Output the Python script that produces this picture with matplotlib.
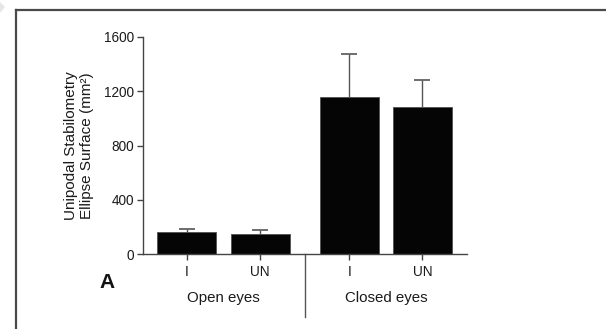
import matplotlib
matplotlib.use("Agg")
import matplotlib.pyplot as plt
from matplotlib.lines import Line2D
from matplotlib.patches import Polygon
from matplotlib import transforms

plt.rcParams['font.family'] = ['Liberation Sans', 'DejaVu Sans']

# Data
groups = ["Open eyes", "Closed eyes"]
subgroups = ["I", "UN"]
means = [166, 149, 1159, 1085]
sem = [18, 27, 314, 197]
yticks = [0, 400, 800, 1200, 1600]

W, H = 606, 329
fig = plt.figure(figsize=(W / 100, H / 100), dpi=100)

# Frame around the panel (left and top edges)
frame_col = "#4a4a4a"
fig.add_artist(Line2D([16 / W, 16 / W], [0, 1 - 10 / H], color=frame_col, lw=1.6,
                      transform=fig.transFigure))
fig.add_artist(Line2D([16 / W, 1], [1 - 10 / H, 1 - 10 / H], color=frame_col, lw=1.6,
                      transform=fig.transFigure))
fig.add_artist(Polygon([[0, 1 - 2 / H], [5 / W, 1 - 7 / H], [0, 1 - 13 / H]],
                       closed=True, facecolor="#e6e6e6", edgecolor="none",
                       transform=fig.transFigure))

ax = fig.add_axes([142.7 / W, 74.7 / H, 324 / W, 217.6 / H])

# Bar positions: two bars per group, wider gap between groups
step = 1.0
group_gap = 1.213
pos = [0, step, step + group_gap, 2 * step + group_gap]
width = 0.805

ax.bar(pos, means, width=width, color="#050505", edgecolor="#505050", linewidth=0.6, zorder=2)
eb = ax.errorbar(pos, means, yerr=[[0] * len(sem), sem], fmt="none", ecolor="#555555",
                 elinewidth=1.0, capsize=5.5, capthick=1.2, zorder=1)
# upper error only: hide the lower caps
eb[1][0].set_visible(False)

ax.set_xlim(-0.604, 3.816)
ax.set_ylim(0, 1600)
ax.set_yticks(yticks)
ax.set_yticklabels([str(v) for v in yticks])
ax.set_xticks(pos)
ax.set_xticklabels(subgroups * 2)

for s in ["top", "right"]:
    ax.spines[s].set_visible(False)
for s in ["left", "bottom"]:
    ax.spines[s].set_color("#444444")
    ax.spines[s].set_linewidth(1.0)

ax.tick_params(axis="both", colors="#444444", labelcolor="#1a1a1a", labelsize=9.8,
               width=1.0, length=4.5)
ax.tick_params(axis="y", pad=1.5)
ax.tick_params(axis="x", pad=3)

ax.set_ylabel("Unipodal Stabilometry\nEllipse Surface (mm²)", fontsize=11,
              color="#1a1a1a", labelpad=7.5, linespacing=1.2)

# Group labels and separator under the axis
trans = transforms.blended_transform_factory(ax.transData, ax.transAxes)
sep_x = (pos[1] + pos[2]) / 2
ax.plot([sep_x, sep_x], [0, -0.29], color="#555555", lw=1.0, transform=trans, clip_on=False)
for gi, name in enumerate(groups):
    cx = (pos[2 * gi] + pos[2 * gi + 1]) / 2
    ax.text(cx, -0.2, name, transform=trans, ha="center", va="center",
            fontsize=10.8, color="#1a1a1a")

fig.text(107 / W, 1 - 283 / H, "A", fontsize=15, fontweight="bold",
         ha="center", va="center", color="#111111")

fig.savefig("out.png", dpi=100)
